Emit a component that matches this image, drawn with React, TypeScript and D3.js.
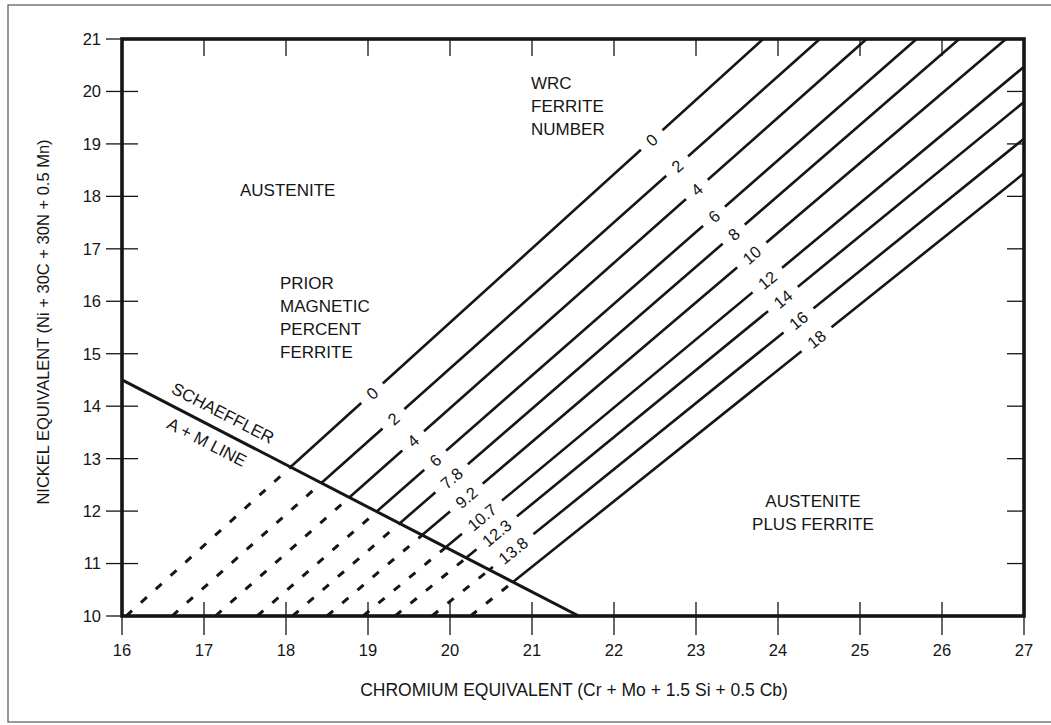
import * as d3 from "d3"

// axis ticks
const crTicks = [16, 17, 18, 19, 20, 21, 22, 23, 24, 25, 26, 27]
const niTicks = [10, 11, 12, 13, 14, 15, 16, 17, 18, 19, 20, 21]

// iso-ferrite lines: start on Ni = 10, end on the top or right border
const lineStartCr = [16.05, 16.61, 17.14, 17.65, 18.08, 18.5, 18.94, 19.33, 19.78, 20.25]
const lineEndCr = [23.82, 24.51, 25.08, 25.69, 26.21, 26.78, 27, 27, 27, 27]
const lineEndNi = [21, 21, 21, 21, 21, 21, 20.47, 19.8, 19.1, 18.44]

// WRC ferrite number labels (upper) and prior magnetic percent ferrite (lower)
const fnLabels = ["0", "2", "4", "6", "8", "10", "12", "14", "16", "18"]
const fnLabelCr = [22.46, 22.77, 23.01, 23.22, 23.46, 23.68, 23.87, 24.06, 24.25, 24.47]
const pctLabels = ["0", "2", "4", "6", "7.8", "9.2", "10.7", "12.3", "13.8"]
const pctLabelCr = [19.05, 19.31, 19.55, 19.82, 20.02, 20.2, 20.39, 20.57, 20.77]

// Schaeffler A + M line
const schaefflerCr = [16, 21.57]
const schaefflerNi = [14.5, 10]

const W = 1051
const H = 725
const FONT = "'Liberation Sans', Arial, Helvetica, sans-serif"
const INK = "#151515"

const x = d3.scaleLinear().domain([16, 27]).range([122, 1024])
const y = d3.scaleLinear().domain([10, 21]).range([616, 39])

const kS = (schaefflerNi[1] - schaefflerNi[0]) / (schaefflerCr[1] - schaefflerCr[0])

function slopeOf(i: number) {
  return (lineEndNi[i] - 10) / (lineEndCr[i] - lineStartCr[i])
}

function niOn(i: number, cr: number) {
  return 10 + slopeOf(i) * (cr - lineStartCr[i])
}

// where line i meets the Schaeffler line
function crossCr(i: number) {
  const s = slopeOf(i)
  return (schaefflerNi[0] - kS * schaefflerCr[0] - 10 + s * lineStartCr[i]) / (s - kS)
}

function angleOf(i: number) {
  const a = lineStartCr[i]
  const b = lineEndCr[i]
  return (Math.atan2(y(niOn(i, b)) - y(10), x(b) - x(a)) * 180) / Math.PI
}

function textWidth(t: string, fs: number) {
  let w = 0
  for (const ch of t) w += ch === "." ? 0.278 : 0.556
  return w * fs
}

function LineLabel({ i, cr, text }: { i: number; cr: number; text: string }) {
  const px = x(cr)
  const py = y(niOn(i, cr))
  const ang = angleOf(i)
  const fs = 16.5
  const gap = textWidth(text, fs) + 20
  return (
    <g transform={`translate(${px},${py}) rotate(${ang})`}>
      <rect x={-gap / 2} y={-6} width={gap} height={12} fill="#fff" />
      <text textAnchor="middle" dy="0.36em" fontSize={fs} fontFamily={FONT} fill={INK}>
        {text}
      </text>
    </g>
  )
}

export default function App() {
  const sAng =
    (Math.atan2(y(schaefflerNi[1]) - y(schaefflerNi[0]), x(schaefflerCr[1]) - x(schaefflerCr[0])) * 180) /
    Math.PI

  return (
    <div style={{ position: "absolute", left: 0, top: 0, background: "#fff" }}>
      <svg width={W} height={H} style={{ display: "block" }}>
        <rect x={0} y={0} width={W} height={H} fill="#fff" />
        {/* outer frame */}
        <rect x={8} y={5} width={1100} height={717} fill="none" stroke="#555" strokeWidth={1.2} />

        {/* iso-ferrite lines, dashed below the Schaeffler line */}
        {lineStartCr.map((a, i) => {
          const c = crossCr(i)
          return (
            <g key={"l" + i}>
              <line
                x1={x(a)}
                y1={y(10)}
                x2={x(c)}
                y2={y(niOn(i, c))}
                stroke={INK}
                strokeWidth={3}
                strokeDasharray="8 12"
              />
              <line
                x1={x(c)}
                y1={y(niOn(i, c))}
                x2={x(lineEndCr[i])}
                y2={y(lineEndNi[i])}
                stroke={INK}
                strokeWidth={2.6}
              />
            </g>
          )
        })}

        {/* Schaeffler line */}
        <line
          x1={x(schaefflerCr[0])}
          y1={y(schaefflerNi[0])}
          x2={x(schaefflerCr[1])}
          y2={y(schaefflerNi[1])}
          stroke={INK}
          strokeWidth={3}
        />

        {fnLabels.map((t, i) => (
          <LineLabel key={"fn" + i} i={i} cr={fnLabelCr[i]} text={t} />
        ))}
        {pctLabels.map((t, i) => (
          <LineLabel key={"pc" + i} i={i} cr={pctLabelCr[i]} text={t} />
        ))}

        {/* ticks */}
        {niTicks.map((v) => (
          <g key={"yt" + v}>
            <line x1={106} x2={138} y1={y(v)} y2={y(v)} stroke={INK} strokeWidth={1.3} />
            <line x1={x(27) - 17} x2={x(27)} y1={y(v)} y2={y(v)} stroke={INK} strokeWidth={1.3} />
            <text x={101} y={y(v)} dy="0.36em" textAnchor="end" fontSize={16.5} fontFamily={FONT} fill={INK}>
              {v}
            </text>
          </g>
        ))}
        {crTicks.map((v) => (
          <g key={"xt" + v}>
            <line x1={x(v)} x2={x(v)} y1={602} y2={635} stroke={INK} strokeWidth={1.3} />
            <line x1={x(v)} x2={x(v)} y1={y(21)} y2={y(21) + 17} stroke={INK} strokeWidth={1.3} />
            <text x={x(v)} y={656} textAnchor="middle" fontSize={16.5} fontFamily={FONT} fill={INK}>
              {v}
            </text>
          </g>
        ))}

        {/* plot border */}
        <rect
          x={x(16)}
          y={y(21)}
          width={x(27) - x(16)}
          height={y(10) - y(21)}
          fill="none"
          stroke={INK}
          strokeWidth={3.6}
        />

        {/* region labels */}
        <g fontFamily={FONT} fontSize={17} fill={INK}>
          <text x={240} y={196}>AUSTENITE</text>
          <text x={531} y={89}>WRC</text>
          <text x={531} y={112}>FERRITE</text>
          <text x={531} y={135}>NUMBER</text>
          <text x={280} y={289}>PRIOR</text>
          <text x={280} y={312}>MAGNETIC</text>
          <text x={280} y={335}>PERCENT</text>
          <text x={280} y={358}>FERRITE</text>
          <text x={813} y={507} textAnchor="middle">AUSTENITE</text>
          <text x={813} y={530} textAnchor="middle">PLUS FERRITE</text>
          <text x={223} y={413} textAnchor="middle" dy="0.36em" transform={`rotate(${sAng},223,413)`}>
            SCHAEFFLER
          </text>
          <text x={207} y={442} textAnchor="middle" dy="0.36em" transform={`rotate(${sAng},207,442)`}>
            A + M LINE
          </text>
        </g>

        {/* axis titles */}
        <text x={574} y={696} textAnchor="middle" fontSize={17.5} fontFamily={FONT} fill={INK}>
          CHROMIUM EQUIVALENT (Cr + Mo + 1.5 Si + 0.5 Cb)
        </text>
        <text
          x={43}
          y={322}
          textAnchor="middle"
          dy="0.36em"
          fontSize={16.5}
          fontFamily={FONT}
          fill={INK}
          transform="rotate(-90,43,322)"
        >
          NICKEL EQUIVALENT (Ni + 30C + 30N + 0.5 Mn)
        </text>
      </svg>
    </div>
  )
}
